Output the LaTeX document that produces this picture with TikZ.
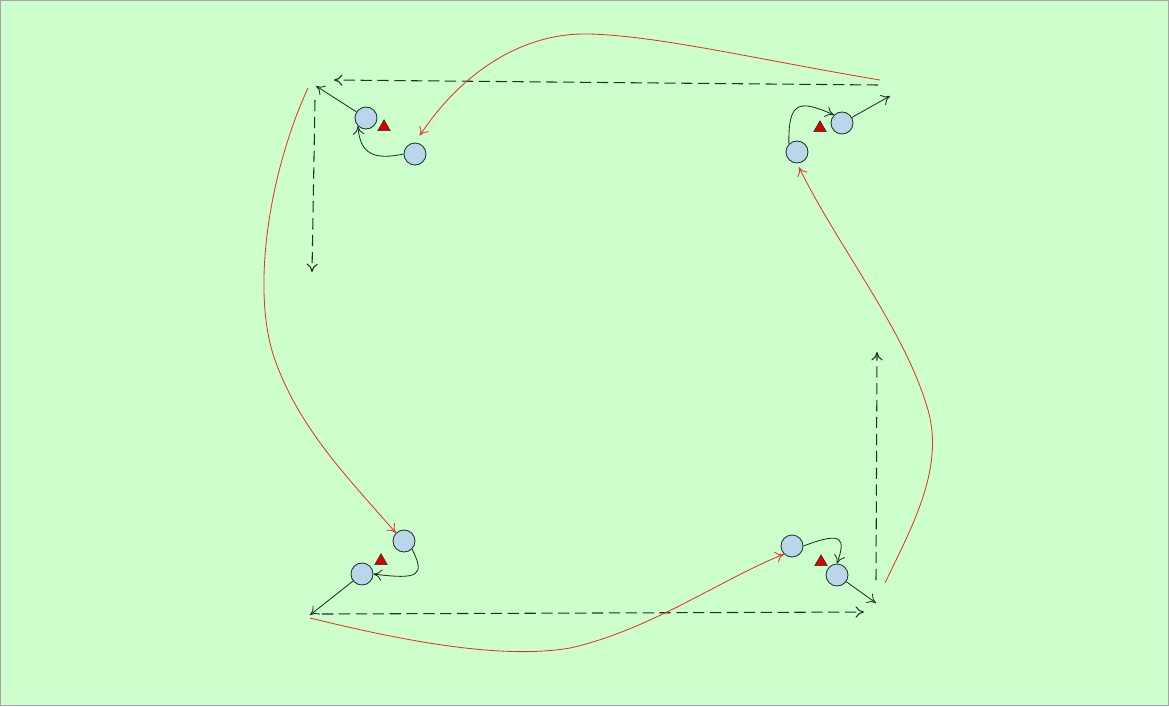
\documentclass[tikz,border=0pt]{standalone}
\usetikzlibrary{shapes.geometric,arrows.meta}
\definecolor{pitch}{RGB}{204,255,204}
\definecolor{playerblue}{RGB}{186,214,234}
\definecolor{passred}{RGB}{228,52,40}
\definecolor{inkline}{RGB}{30,50,35}
\tikzset{
  player/.style={circle,draw=inkline,fill=playerblue,line width=0.6pt,minimum size=0.55cm,inner sep=0pt},
  cone/.style={regular polygon,regular polygon sides=3,draw=inkline,fill=red!85!black,line width=0.4pt,minimum size=0.36cm,inner sep=0pt},
  move/.style={draw=inkline,line width=0.6pt,-{To[length=6pt,width=8pt]}},
  run/.style={move,line width=0.75pt,dash pattern=on 8pt off 4pt},
  pass/.style={draw=passred,line width=0.6pt,-{To[length=6pt,width=8pt]}}
}
\begin{document}
\begin{tikzpicture}[x=0.025cm,y=-0.025cm]
\fill[pitch] (0,0) rectangle (1169,706);
\draw[gray!70,line width=0.6pt] (0.5,0.5) rectangle (1168.5,705.5);
\useasboundingbox (0,0) rectangle (1169,706);

% top left
\node[player] (tla) at (366,118) {};
\node[player] (tlb) at (415,154) {};
\node[cone] (tlc) at (384,127) {};
\coordinate (tlrun) at (316,86);
\coordinate (tldown) at (312,272);
\coordinate (tlstart) at (308,88);
\draw[move] (tla) -- (tlrun);
\draw[move] (tlb.west) .. controls (375,160) and (360,155) .. (tla.south west);
\draw[run] (315,100) -- (tldown);

% top right
\node[player] (tra) at (842,123) {};
\node[player] (trb) at (797,152) {};
\node[cone] (trc) at (820,128) {};
\coordinate (trrun) at (890,96);
\coordinate (trstart) at (880,80);
\draw[move] (tra) -- (trrun);
\draw[move] (trb.north west) .. controls (788,100) and (800,100) .. (tra.north west);
\draw[run] (878,85) -- (334,80);

% bottom left
\node[player] (bla) at (404,541) {};
\node[player] (blb) at (362,574) {};
\node[cone] (blc) at (381,561) {};
\coordinate (blrun) at (310,615);
\coordinate (blstart) at (310,618);
\draw[move] (blb) -- (blrun);
\draw[move] (bla.south east) .. controls (425,575) and (420,580) .. (blb.east);
\draw[run] (322,614) -- (864,612);

% bottom right
\node[player] (bra) at (792,546) {};
\node[player] (brb) at (837,575) {};
\node[cone] (brc) at (821,562) {};
\coordinate (brrun) at (876,603);
\coordinate (brstart) at (885,583);
\draw[move] (brb) -- (brrun);
\draw[move] (bra.east) .. controls (845,530) and (845,540) .. (brb.north);
\draw[run] (876,580) -- (877,352);

% passes
\draw[pass,shorten >=6pt] (trstart) .. controls (760,60) and (660,36) .. (590,34) .. controls (520,32) and (460,75) .. (tlb.north);
\draw[pass] (tlstart) .. controls (270,170) and (250,290) .. (275,360) .. controls (300,430) and (350,480) .. (bla.north west);
\draw[pass] (blstart) .. controls (400,640) and (500,660) .. (570,648) .. controls (650,630) and (720,580) .. (bra.south west);
\draw[pass,shorten >=3pt] (brstart) .. controls (910,530) and (945,470) .. (928,410) .. controls (905,330) and (840,250) .. (trb.south);
\end{tikzpicture}
\end{document}
